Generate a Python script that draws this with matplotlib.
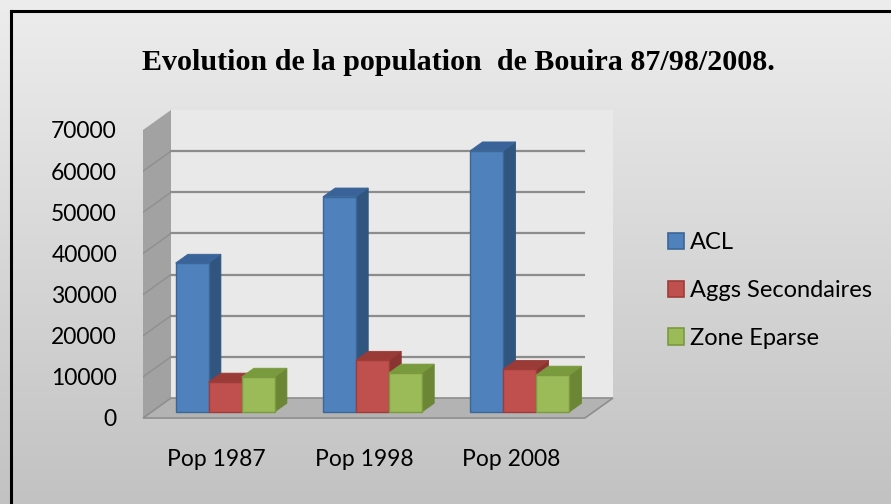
import numpy as np
import matplotlib
matplotlib.use("Agg")
import matplotlib.pyplot as plt
from matplotlib.patches import Polygon, Patch
from matplotlib.transforms import IdentityTransform, ScaledTranslation
from matplotlib.lines import Line2D

# ---- data ----
categories = ["Pop 1987", "Pop 1998", "Pop 2008"]
series_names = ["ACL", "Aggs Secondaires", "Zone Eparse"]
acl = [36200, 52300, 63500]
aggs = [7300, 12600, 10400]
zone = [8500, 9500, 9000]
yticks = [0, 10000, 20000, 30000, 40000, 50000, 60000, 70000]
title = "Evolution de la population  de Bouira 87/98/2008."

# ---- style ----
W, H = 891, 504
front_cols = ["#4f81bd", "#c0504d", "#9bbb59"]
top_cols = ["#3a6499", "#9a3b38", "#7a9a3e"]
side_cols = ["#30557f", "#8a3431", "#6b8735"]
edge_cols = ["#3b6796", "#9e3c39", "#7b9a3f"]
FONT = "Lato"
DX, DY = 28.0, 20.0          # depth offset of the full box (pixels)
BAR_D0, BAR_D1 = 0.30, 0.74  # depth of bar front / back faces
BW = 0.224                   # bar width in category units

fig = plt.figure(figsize=(W / 100, H / 100), dpi=100)

# background gradient
bg = fig.add_axes([0, 0, 1, 1], zorder=-10)
grad = np.linspace(0, 1, 256).reshape(-1, 1)
bg.imshow(grad, aspect="auto", cmap=matplotlib.colors.LinearSegmentedColormap.from_list(
    "g", ["#ededed", "#c2c2c2"]), extent=[0, 1, 0, 1], origin="upper")
bg.set_xlim(0, 1); bg.set_ylim(0, 1)
bg.axis("off")
# border (left and top)
bg.add_line(Line2D([11 / W, 11 / W], [0, 1 - 11 / H], color="black", lw=2.2, transform=bg.transAxes))
bg.add_line(Line2D([11 / W, 1], [1 - 11 / H, 1 - 11 / H], color="black", lw=2.2, transform=bg.transAxes))

# main axes = front plane of the 3D box
x0p, x1p, y0p, y1p = 143, 585, 418, 130
ax = fig.add_axes([x0p / W, (H - y0p) / H, (x1p - x0p) / W, (y0p - y1p) / H])
ax.patch.set_alpha(0)
ax.set_xlim(-0.5, len(categories) - 0.5)
ax.set_ylim(0, yticks[-1])
for s in ax.spines.values():
    s.set_visible(False)
ax.set_yticks(yticks)
ax.set_yticklabels([])
ax.set_xticks(range(len(categories)))
ax.set_xticklabels(categories, fontsize=16.5, family=FONT, color="black")
ax.tick_params(axis="y", length=0)
ax.tick_params(axis="x", length=0, pad=22)

# y labels just left of the front plane
ylab_off = ax.transData + ScaledTranslation(-26 / 100, -2 / 100, fig.dpi_scale_trans)
for v in yticks:
    ax.text(-0.5, v, str(v), transform=ylab_off, ha="right", va="center",
            fontsize=16.5, family=FONT, color="black", clip_on=False)

ident = IdentityTransform()


def P(x, y, d):
    px, py = ax.transData.transform((x, y))
    return (px + d * DX, py + d * DY)


def poly(pts, fc, ec="none", lw=0.0, z=1):
    ax.add_patch(Polygon(pts, closed=True, facecolor=fc, edgecolor=ec, lw=lw,
                         transform=ident, zorder=z, clip_on=False))


xl, xr = -0.5, len(categories) - 0.5
ytop = yticks[-1]
# back wall
poly([P(xl, 0, 1), P(xr, 0, 1), P(xr, ytop, 1), P(xl, ytop, 1)], "#e9e9e9", z=1)
# left wall
poly([P(xl, 0, 0), P(xl, 0, 1), P(xl, ytop, 1), P(xl, ytop, 0)], "#a2a2a2", z=1)
# floor
poly([P(xl, 0, 0), P(xr, 0, 0), P(xr, 0, 1), P(xl, 0, 1)], "#b3b3b3", ec="#8e8e8e", lw=1.2, z=2)

# gridlines
for v in yticks[1:]:
    a, b = P(xl, v, 1), P(xr, v, 1)
    ax.add_line(Line2D([a[0], b[0]], [a[1], b[1]], color="#8c8c8c", lw=1.6, transform=ident, zorder=1.5))
    c = P(xl, v, 0)
    ax.add_line(Line2D([c[0], a[0]], [c[1], a[1]], color="#8f8f8f", lw=1.0, transform=ident, zorder=1.5))

# bars
values = [acl, aggs, zone]
for gi in range(len(categories)):
    for si, vals in enumerate(values):
        v = vals[gi]
        xa = gi + (si - 1.5) * BW
        xb = xa + BW
        z = 3 + si * 0.1 + gi * 0.01
        poly([P(xb, 0, BAR_D0), P(xb, 0, BAR_D1), P(xb, v, BAR_D1), P(xb, v, BAR_D0)],
             side_cols[si], ec=side_cols[si], lw=0.6, z=z)
        poly([P(xa, v, BAR_D0), P(xb, v, BAR_D0), P(xb, v, BAR_D1), P(xa, v, BAR_D1)],
             top_cols[si], ec=top_cols[si], lw=0.6, z=z)
        poly([P(xa, 0, BAR_D0), P(xb, 0, BAR_D0), P(xb, v, BAR_D0), P(xa, v, BAR_D0)],
             front_cols[si], ec=edge_cols[si], lw=1.0, z=z + 0.05)

# title
fig.text(458 / W, 1 - 63 / H, title, ha="center", va="center",
         fontsize=21.6, fontweight="bold", family="Liberation Serif")

# legend
handles = [Patch(facecolor=front_cols[i], edgecolor=edge_cols[i], lw=1.2) for i in range(3)]
leg = fig.legend(handles, series_names, loc="upper left", bbox_to_anchor=(668 / W, 1 - 232 / H),
                 frameon=False, prop={"family": FONT, "size": 17},
                 handlelength=0.68, handleheight=0.68, handletextpad=0.25, labelspacing=1.14,
                 borderpad=0, borderaxespad=0)

fig.savefig("out.png", dpi=100)
